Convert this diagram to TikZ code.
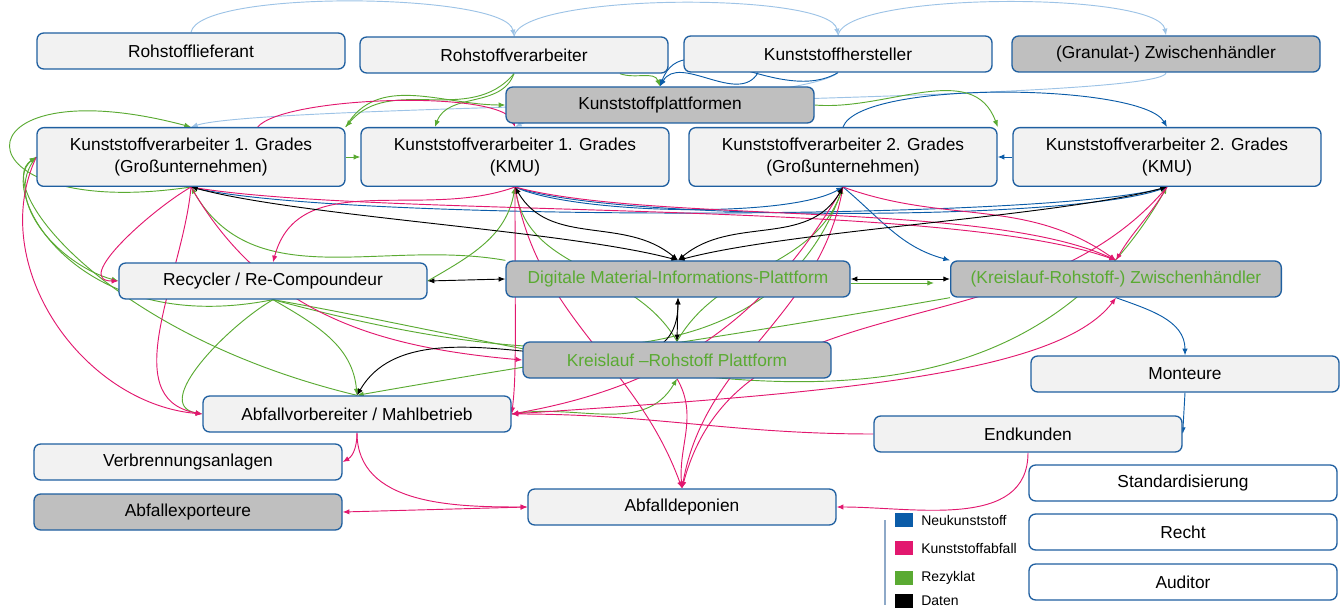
\documentclass[tikz,border=0pt]{standalone}
\usepackage{fontspec}
\setmainfont{Liberation Sans}
\usetikzlibrary{arrows.meta}
\definecolor{cBorder}{RGB}{31,95,160}
\definecolor{cFill}{RGB}{242,242,242}
\definecolor{cGrey}{RGB}{191,191,191}
\definecolor{cNeu}{RGB}{11,92,168}
\definecolor{cAbf}{RGB}{226,24,111}
\definecolor{cRez}{RGB}{90,170,50}
\definecolor{cRoh}{RGB}{157,195,230}
\definecolor{cLeg}{RGB}{142,169,200}
\pgfdeclarelayer{bg}
\pgfsetlayers{bg,main}
\begin{document}
\begin{tikzpicture}[x=0.75pt,y=0.75pt,
    box/.style={draw=cBorder,line width=1pt,rounded corners=5pt,fill=cFill,minimum width=231pt,minimum height=27pt,inner sep=2pt,align=center,font=\fontsize{13}{16.5}\selectfont},
    bigbox/.style={box,minimum height=44pt},
    greybox/.style={box,fill=cGrey},
    platbox/.style={greybox,text=cRez},
    plainbox/.style={box,fill=white},
    flow/.style={line width=0.7pt,-{Latex[length=5pt,width=4pt]}},
    rohl/.style={flow,draw=cRoh},
    neuk/.style={flow,draw=cNeu},
    abfl/.style={flow,draw=cAbf},
    rzk/.style={flow,draw=cRez},
    dat/.style={line width=0.7pt,{Latex[length=5pt,width=4pt]}-{Latex[length=5pt,width=4pt]}},
    legsq/.style={minimum width=14pt,minimum height=10pt,inner sep=0pt},
    legtxt/.style={anchor=west,inner sep=0pt,font=\fontsize{10.5}{12}\selectfont}]

    \useasboundingbox (0,0) rectangle (1343,608);

    \node[box] (L) at (191,557) {Rohstofflieferant};
    \node[box] (V) at (514,553) {Rohstoffverarbeiter};
    \node[box] (H) at (838,554) {Kunststoffhersteller};
    \node[greybox] (G) at (1166,554) {(Granulat-) Zwischenhändler};
    \node[greybox] (P) at (660,503) {Kunststoffplattformen};

    \node[bigbox] (K1) at (191,451) {Kunststoffverarbeiter 1. Grades\\(Großunternehmen)};
    \node[bigbox] (K2) at (515,451) {Kunststoffverarbeiter 1. Grades\\(KMU)};
    \node[bigbox] (K3) at (843,451) {Kunststoffverarbeiter 2. Grades\\(Großunternehmen)};
    \node[bigbox] (K4) at (1167,451) {Kunststoffverarbeiter 2. Grades\\(KMU)};

    \node[box] (R) at (273,327) {Recycler / Re-Compoundeur};
    \node[platbox,minimum width=258pt] (D) at (678,329) {Digitale Material-Informations-Plattform};
    \node[platbox,minimum width=248pt] (Z) at (1116,329) {(Kreislauf-Rohstoff-) Zwischenhändler};
    \node[platbox] (KP) at (677,248) {Kreislauf –Rohstoff Plattform};
    \node[box] (M) at (1185,234) {Monteure};
    \node[box] (A) at (357,194) {Abfallvorbereiter / Mahlbetrieb};
    \node[box] (E) at (1028,174) {Endkunden};

    \node[box] (VB) at (188,146) {Verbrennungsanlagen};
    \node[greybox] (AE) at (188,96) {Abfallexporteure};
    \node[box] (AD) at (682,101) {Abfalldeponien};

    \node[plainbox] (S) at (1183,125) {Standardisierung};
    \node[plainbox] (RE) at (1183,76) {Recht};
    \node[plainbox] (AU) at (1183,26) {Auditor};

    \draw[cLeg,line width=1pt] (885,88) -- (885,3);
    \node[legsq,fill=cNeu] (Q1) at (904,88) {};
    \node[legsq,fill=cAbf] (Q2) at (904,60) {};
    \node[legsq,fill=cRez] (Q3) at (904,30) {};
    \node[legsq,fill=black] (Q4) at (904,7) {};
    \node[legtxt] (T1) at (921,88) {Neukunststoff};
    \node[legtxt] (T2) at (921,60) {Kunststoffabfall};
    \node[legtxt] (T3) at (921,30) {Rezyklat};
    \node[legtxt] (T4) at (921,7) {Daten};

    \begin{pgfonlayer}{bg}
    \draw[rohl] (L.north) to[out=80,in=100,looseness=0.35] (V.north);
    \draw[rohl] (V.north) to[out=80,in=100,looseness=0.35] (H.north);
    \draw[rohl] (H.north) to[out=80,in=100,looseness=0.35] (G.north);
    \draw[rohl] (G.south) .. controls +(0,-30) and +(80,25) .. (K1.north);
    \draw[rohl] (H.south) .. controls +(-30,-25) and +(40,20) .. (K2.north);

    \draw[neuk] (H.south) to[out=-150,in=70] (P.north);
    \draw[neuk] ([xshift=-60pt]H.south) to[out=-120,in=60] (P.north);
    \draw[neuk] (K3.north) to[out=70,in=120,looseness=0.4] (K4.north);
    \draw[neuk] (K4.west) -- (K3.east);
    \draw[neuk] (K2.south) to[out=-20,in=-160,looseness=0.4] (K4.south);
    \draw[neuk] (K2.south) to[out=-25,in=-150,looseness=0.5] (K3.south);
    \draw[neuk] (K1.south) to[out=-15,in=-165,looseness=0.35] (K4.south);
    \draw[neuk] (K3.south) to[out=-40,in=165] (Z.north west);
    \draw[neuk] (Z.south) to[out=-20,in=90] (M.north);
    \draw[neuk] (M.south) -- (E.east);

    \draw[rzk] (V.-10) to[out=-20,in=110] (P.north);
    \draw[rzk] (K1.east) -- (K2.west);
    \draw[rzk] (K1.south) .. controls (-50,385) and (-50,545) .. (K1.north);
    \draw[rzk] (R.south) .. controls +(-200,-40) and +(-40,-30) .. (K1.west);
    \draw[rzk] (A.north) .. controls +(-250,60) and +(-45,-30) .. (K1.west);
    \draw[rzk] (K1.west) to[out=-130,in=165] (R.west);
    \draw[rzk] (D.north west) to[out=170,in=-60] (K1.south);
    \draw[rzk] (R.east) to[out=30,in=-100] (K2.south);
    \draw[rzk] (R.south) to[out=-15,in=-110] (K3.south);
    \draw[rzk] (R.south) to[out=-10,in=-120] (K4.south);
    \draw[rzk] (R.south) to[out=-30,in=95] (A.north);
    \draw[rzk] (R.south) to[out=-150,in=170] (A.west);
    \draw[rzk] ([yshift=-3pt]D.east) -- ([yshift=-3pt,xshift=-12pt]Z.west);
    \draw[rzk] (A.east) to[out=10,in=-120] (KP.south);
    \draw[rzk] (Z.south west) to[out=-170,in=10] (A.north);
    \draw[rzk] (K1.north east) to[out=60,in=180] (P.west);
    \draw[rzk] (V.south) to[out=-130,in=50] (K1.north east);
    \draw[rzk] (V.south) to[out=-110,in=70] ([xshift=-60pt]K2.north);
    \draw[rzk] (P.east) to[out=-5,in=110] (K3.north east);
    \draw[rzk] (KP.north) to[out=60,in=-110] (K3.south);
    \draw[rzk] (KP.north) to[out=120,in=-80] (K2.south);

    \draw[abfl] (K1.south) to[out=-150,in=180] (R.west);
    \draw[abfl] (K2.south) to[out=-160,in=75] (R.north);
    \draw[abfl] (K1.west) to[out=-115,in=175] (A.west);
    \draw[abfl] (K1.south) to[out=-95,in=170] (A.west);
    \draw[abfl] (K1.south) to[out=-60,in=175] (KP.west);
    \draw[abfl] (K2.south) .. controls +(0,-150) and +(5,40) .. (A.east);
    \draw[abfl] (K3.south) to[out=-120,in=10] (A.east);
    \draw[abfl] (KP.south) to[out=-60,in=95] (AD.north);
    \draw[abfl] (K2.south) to[out=-80,in=110] (AD.north);
    \draw[abfl] (K3.south) to[out=-100,in=80] (AD.north);
    \draw[abfl] (K4.south) to[out=-130,in=75] (AD.north);
    \draw[abfl] (A.south) to[out=-90,in=30] (VB.east);
    \draw[abfl] (A.south) to[out=-90,in=180] (AD.west);
    \draw[abfl,{Latex[length=5pt,width=4pt]}-{Latex[length=5pt,width=4pt]}] (AE.east) -- (AD.west);
    \draw[abfl] (E.south) to[out=-90,in=0] (AD.east);
    \draw[abfl] (E.west) to[out=180,in=0] (A.east);
    \draw[abfl] (A.east) .. controls +(300,20) and +(-60,-80) .. (Z.south);
    \draw[abfl] (K1.south) to[out=-10,in=160,looseness=0.5] (Z.north);
    \draw[abfl] (K2.south) to[out=-15,in=155,looseness=0.6] (Z.north);
    \draw[abfl] (K3.south) to[out=-20,in=145] (Z.north);
    \draw[abfl] (K4.south) to[out=-120,in=60] (Z.north);
    \draw[abfl] ([xshift=50pt]K1.north) to[out=50,in=110,looseness=0.4] (K2.north);

    \draw[dat] (K1.south) to[out=-15,in=165,looseness=0.6] (D.north);
    \draw[dat] (K2.south) to[out=-60,in=140] (D.north);
    \draw[dat] (K3.south) to[out=-120,in=40] (D.north);
    \draw[dat] (K4.south) to[out=-165,in=15,looseness=0.6] (D.north);
    \draw[dat] (R.east) -- (D.west);
    \draw[dat] (D.east) -- (Z.west);
    \draw[dat] (D.south) -- (KP.north);
    \draw[dat] (A.north) to[out=60,in=-90] (D.south);
    \end{pgfonlayer}

\end{tikzpicture}
\end{document}
